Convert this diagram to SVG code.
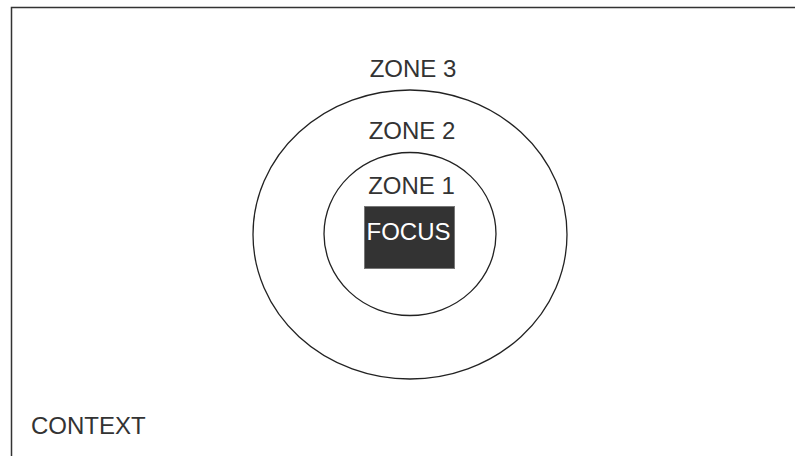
<svg xmlns="http://www.w3.org/2000/svg" width="795" height="456" viewBox="0 0 795 456">
<style>
.t{font-family:"Liberation Sans",Arial,sans-serif;font-size:24px;fill:#333;text-anchor:middle}
.z{fill:none;stroke:#222;stroke-width:1.3}
</style>
<rect width="795" height="456" fill="#fff"/>
<g id="context">
<rect x="11.5" y="7.5" width="800" height="460" fill="none" stroke="#333" stroke-width="1.5"/>
<text class="t" x="31" y="434" style="text-anchor:start">CONTEXT</text>
</g>
<g id="zone3">
<text class="t" x="413" y="77">ZONE 3</text>
</g>
<g id="zone2">
<ellipse class="z" cx="410" cy="234.5" rx="157" ry="144.5"/>
<text class="t" x="412" y="139">ZONE 2</text>
</g>
<g id="zone1">
<ellipse class="z" cx="410" cy="234" rx="86" ry="81.5"/>
<text class="t" x="411.5" y="194">ZONE 1</text>
</g>
<g id="focus">
<rect x="364.5" y="206.5" width="90" height="62" fill="#333" stroke="#777" stroke-width="1"/>
<text class="t" x="408.5" y="240" style="fill:#fff">FOCUS</text>
</g>
<g id="connectors"/>
</svg>
